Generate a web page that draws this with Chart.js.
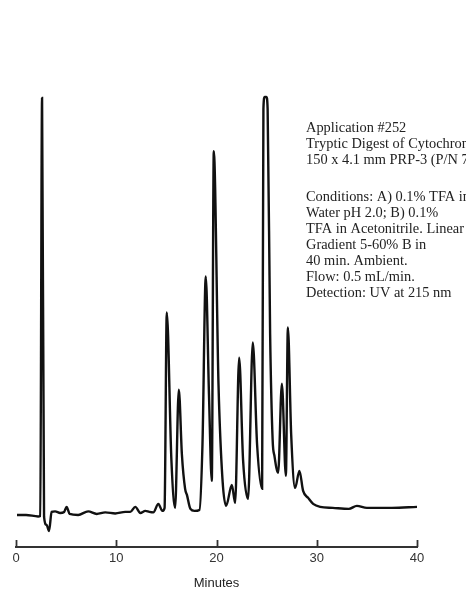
<!DOCTYPE html>
<html>
<head>
<meta charset="utf-8">
<script src="https://cdn.jsdelivr.net/npm/chart.js@4.4.1/dist/chart.umd.min.js"></script>
<style>
  html, body { margin: 0; padding: 0; background: #fff; }
  #wrap { width: 466px; height: 590px; position: relative; }
</style>
</head>
<body>
<div id="wrap"><canvas id="chrom"></canvas></div>
<script>
// retention time (minutes) and detector signal (arbitrary units, baseline = 0)
const times = [
  0.1, 1.0, 2.2, 2.42, 2.6, 2.8, 3.05, 3.3, 3.55, 3.9, 4.4, 4.8, 5.05, 5.35, 6.2,
  7.2, 8.05, 8.9, 9.9, 10.9, 11.4, 11.9, 12.4, 12.9, 13.3, 13.7, 14.2, 14.6, 14.82,
  15.04, 15.5, 15.87, 16.24, 16.55, 16.87, 17.05, 17.4, 17.8, 18.3, 18.6, 18.93,
  19.25, 19.53, 19.73, 20.2, 20.6, 20.96, 21.53, 21.86, 22.26, 22.65, 23.15, 23.62,
  24.05, 24.55, 24.68, 24.8, 24.98, 25.1, 25.35, 25.6, 25.78, 26.15, 26.52, 26.92,
  27.12, 27.45, 27.84, 28.27, 28.64, 29.14, 29.64, 30.34, 31.6, 33.2, 34.0, 35.0,
  37.5, 40.0
];
const signal = [
  0, 0, -1.5, -1, 416, -2, -10, -16, 3, 3.5, 2, 3, 8, 1, 0,
  3.5, 1, 2.5, 1.5, 3, 3, 8, 2, 4, 3, 2.5, 11, 4, 7,
  202, 55, 7, 125, 60, 26, 20, 6, 4, 5, 70, 238,
  120, 34, 363, 130, 35, 9, 30, 12, 157, 55, 16, 172,
  70, 26, 405, 417, 417, 405, 180, 75, 59, 42, 131, 39,
  187, 80, 27, 44, 24, 17, 11, 8, 7, 6, 9, 7,
  7, 8
];
const xTicks = [0, 10, 20, 30, 40];

const notes = [
  'Application #252',
  'Tryptic Digest of Cytochrome C',
  '150 x 4.1 mm PRP-3 (P/N 79574)',
  '',
  'Conditions: A) 0.1% TFA in',
  'Water pH 2.0; B) 0.1%',
  'TFA in Acetonitrile. Linear',
  'Gradient 5-60% B in',
  '40 min. Ambient.',
  'Flow: 0.5 mL/min.',
  'Detection: UV at 215 nm'
];
const noteY = [128, 144, 160, 0, 197, 213, 229, 245, 261, 277, 293];

const points = times.map((t, i) => ({ x: t, y: signal[i] }));

// tick marks point up into the plot, like the original chart recorder axis
const upTicks = {
  id: 'upTicks',
  afterDraw(chart) {
    const sx = chart.scales.x;
    const ctx = chart.ctx;
    ctx.save();
    ctx.strokeStyle = '#333';
    ctx.lineWidth = 1.8;
    sx.ticks.forEach(tk => {
      const px = Math.round(sx.getPixelForValue(tk.value)) + 0.5;
      ctx.beginPath();
      ctx.moveTo(px, sx.top);
      ctx.lineTo(px, sx.top - 7);
      ctx.stroke();
    });
    ctx.restore();
  }
};

const notesPlugin = {
  id: 'notes',
  afterDraw(chart) {
    const ctx = chart.ctx;
    ctx.save();
    ctx.fillStyle = '#222';
    ctx.font = '14.4px "Liberation Serif", "Times New Roman", serif';
    ctx.textBaseline = 'middle';
    notes.forEach((s, i) => {
      if (s) ctx.fillText(s, 306, noteY[i]);
    });
    ctx.restore();
  }
};

new Chart(document.getElementById('chrom'), {
  type: 'line',
  data: {
    datasets: [{
      data: points,
      borderColor: '#111',
      borderWidth: 2.4,
      pointRadius: 0,
      fill: false,
      cubicInterpolationMode: 'monotone',
      clip: false
    }]
  },
  options: {
    responsive: true,
    maintainAspectRatio: false,
    animation: false,
    layout: { padding: { top: 90, left: 16, right: 49, bottom: 0 } },
    plugins: { legend: { display: false }, tooltip: { enabled: false } },
    scales: {
      x: {
        type: 'linear',
        min: 0,
        max: 40,
        afterBuildTicks: (scale) => { scale.ticks = xTicks.map(v => ({ value: v })); },
        grid: { display: false, drawTicks: false },
        border: { display: true, color: '#333', width: 2 },
        ticks: {
          color: '#333',
          padding: 5,
          font: { family: '"Liberation Sans", Arial, sans-serif', size: 13, lineHeight: 1 }
        },
        title: {
          display: true,
          text: 'Minutes',
          color: '#222',
          padding: { top: 7, bottom: 0 },
          font: { family: '"Liberation Sans", Arial, sans-serif', size: 13, lineHeight: 1 }
        }
      },
      y: {
        display: false,
        min: -32,
        max: 424
      }
    }
  },
  plugins: [upTicks, notesPlugin]
});
</script>
</body>
</html>
